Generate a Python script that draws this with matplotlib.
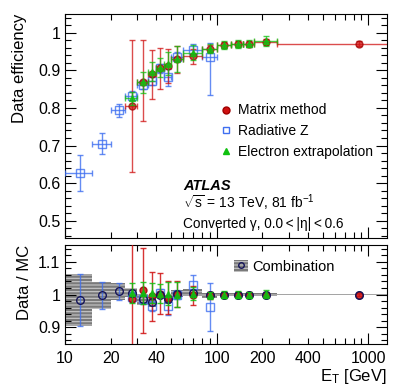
import numpy as np
import matplotlib
matplotlib.use("Agg")
import matplotlib.pyplot as plt
from matplotlib.patches import Patch
from matplotlib.lines import Line2D
from matplotlib.ticker import FixedLocator, NullFormatter, MultipleLocator

plt.rcParams['font.family'] = ['Liberation Sans', 'DejaVu Sans']
plt.rcParams['mathtext.fontset'] = 'custom'
plt.rcParams['mathtext.rm'] = 'Liberation Sans'
plt.rcParams['mathtext.it'] = 'Liberation Sans:italic'
plt.rcParams['hatch.linewidth'] = 0.8

# E_T bin edges [GeV]
edges = np.array([10, 15, 20, 25, 30, 35, 40, 45, 50, 60, 80, 100, 125, 150, 175, 250, 1500])
centers = 0.5 * (edges[1:] + edges[:-1])
halfw = 0.5 * (edges[1:] - edges[:-1])

# bins used by each method (indices into edges)
rz_bins = list(range(0, 11))       # radiative Z: 10-100 GeV
mm_bins = list(range(3, 16))       # matrix method: 25-1500 GeV
ee_bins = list(range(3, 15))       # electron extrapolation: 25-250 GeV

# data efficiency
rz_eff = [0.627, 0.705, 0.794, 0.832, 0.861, 0.872, 0.906, 0.883, 0.936, 0.954, 0.935]
rz_lo = [0.047, 0.027, 0.017, 0.012, 0.012, 0.012, 0.012, 0.025, 0.012, 0.015, 0.100]
rz_hi = [0.048, 0.027, 0.017, 0.012, 0.012, 0.012, 0.012, 0.020, 0.012, 0.015, 0.037]

mm_eff = [0.804, 0.870, 0.890, 0.905, 0.912, 0.929, 0.938, 0.958, 0.967, 0.970, 0.970, 0.975, 0.971]
mm_lo = [0.174, 0.105, 0.065, 0.055, 0.045, 0.035, 0.020, 0.010, 0.008, 0.008, 0.008, 0.008, 0.006]
mm_hi = [0.176, 0.110, 0.065, 0.055, 0.045, 0.035, 0.020, 0.010, 0.008, 0.008, 0.008, 0.008, 0.006]

ee_eff = [0.826, 0.868, 0.896, 0.907, 0.918, 0.930, 0.947, 0.958, 0.968, 0.970, 0.971, 0.978]
ee_err = [0.017, 0.028, 0.025, 0.025, 0.030, 0.035, 0.020, 0.012, 0.010, 0.010, 0.010, 0.012]

# data / MC scale factors
rz_sf = [0.983, 0.997, 1.010, 0.993, 0.985, 0.965, 1.005, 0.965, 1.000, 1.028, 0.963]
rz_sf_err = [0.078, 0.041, 0.026, 0.015, 0.015, 0.015, 0.013, 0.028, 0.013, 0.030, 0.073]

mm_sf = [0.985, 1.013, 0.995, 1.003, 0.990, 1.002, 0.997, 0.997, 1.000, 1.000, 1.000, 1.000, 1.000]
mm_sf_err = [0.200, 0.130, 0.075, 0.062, 0.050, 0.040, 0.028, 0.010, 0.008, 0.008, 0.008, 0.008, 0.005]

ee_sf = [1.005, 1.005, 1.005, 1.003, 1.003, 1.000, 1.002, 0.997, 1.000, 1.000, 0.998, 1.002]
ee_sf_err = [0.030, 0.033, 0.030, 0.028, 0.035, 0.038, 0.020, 0.012, 0.010, 0.010, 0.010, 0.012]

comb_sf = [0.983, 0.997, 1.010, 1.005, 0.985, 0.978, 1.000, 0.985, 1.003, 1.006, 0.997,
           1.000, 1.000, 0.999, 1.000, 1.000]
comb_err = [0.078, 0.041, 0.026, 0.014, 0.018, 0.015, 0.012, 0.014, 0.012, 0.012, 0.008,
            0.006, 0.005, 0.005, 0.005, 0.003]

RED = '#d01010'
BLUE = '#3f6ff0'
GREEN = '#10c010'
NAVY = '#14145a'
BOX = '#7a7a7a'
BOXLINE = '#c8c8c8'

fig = plt.figure(figsize=(4.07, 3.87), dpi=100)
ax1 = fig.add_axes([0.160, 0.386, 0.791, 0.578])
ax2 = fig.add_axes([0.160, 0.111, 0.791, 0.256])

# ---- top panel ----
ax1.errorbar(centers[rz_bins], rz_eff, yerr=[rz_lo, rz_hi], xerr=halfw[rz_bins],
             fmt='s', ms=5.5, mfc='none', mec=BLUE, mew=1.0, ecolor=BLUE, elinewidth=1.0,
             capsize=2, alpha=0.8, zorder=3)
ax1.errorbar(centers[mm_bins], mm_eff, yerr=[mm_lo, mm_hi], xerr=halfw[mm_bins],
             fmt='o', ms=5, mfc=RED, mec='#a00000', ecolor=RED, elinewidth=1.0,
             capsize=2, alpha=0.75, zorder=4)
ax1.errorbar(centers[ee_bins], ee_eff, yerr=ee_err, xerr=halfw[ee_bins],
             fmt='^', ms=5, mfc=GREEN, mec=GREEN, ecolor=GREEN, elinewidth=1.0,
             capsize=2, alpha=0.75, zorder=5)

ax1.set_ylim(0.455, 1.05)
ax1.set_ylabel('Data efficiency', fontsize=12, loc='top', labelpad=8)

h_mm = Line2D([], [], ls='none', marker='o', ms=5, mfc=RED, mec='#a00000')
h_rz = Line2D([], [], ls='none', marker='s', ms=5, mfc='none', mec=BLUE)
h_ee = Line2D([], [], ls='none', marker='^', ms=5, mfc=GREEN, mec=GREEN)
ax1.legend([h_mm, h_rz, h_ee], ['Matrix method', 'Radiative Z', 'Electron extrapolation'],
           loc='upper left', bbox_to_anchor=(0.46, 0.625), frameon=False, fontsize=10,
           handlelength=1.0, handletextpad=0.4, labelspacing=0.5, borderaxespad=0)

ax1.text(0.366, 0.215, 'ATLAS', transform=ax1.transAxes, fontsize=10.5,
         fontweight='bold', fontstyle='italic')
ax1.text(0.366, 0.132, r'$\sqrt{\rm s}$ = 13 TeV, 81 fb$^{-1}$', transform=ax1.transAxes,
         fontsize=10)
ax1.text(0.366, 0.045, 'Converted γ, 0.0\u2009<\u2009|η|\u2009<\u20090.6',
         transform=ax1.transAxes, fontsize=9.8, family=['Liberation Sans', 'DejaVu Sans'])

# ---- ratio panel ----
ax2.bar(edges[:-1], 2 * np.array(comb_err), width=np.diff(edges),
        bottom=np.array(comb_sf) - np.array(comb_err), align='edge',
        facecolor=BOX, edgecolor=BOXLINE, hatch='-----', linewidth=0, zorder=1)
ax2.errorbar(centers[rz_bins], rz_sf, yerr=rz_sf_err, fmt='none', ecolor=BLUE,
             elinewidth=1.0, capsize=2, alpha=0.8, zorder=2)
ax2.plot(centers[rz_bins][3:], rz_sf[3:], 's', ms=5.5, mfc='none', mec=BLUE,
         mew=1.0, alpha=0.8, zorder=2)
ax2.errorbar(centers[mm_bins], mm_sf, yerr=mm_sf_err, fmt='o', ms=5, mfc=RED,
             mec='#a00000', ecolor=RED, elinewidth=1.0, capsize=2, alpha=0.85, zorder=3)
ax2.errorbar(centers[ee_bins], ee_sf, yerr=ee_sf_err, fmt='^', ms=5, mfc=GREEN,
             mec=GREEN, ecolor=GREEN, elinewidth=1.0, capsize=2, alpha=0.85, zorder=5)
ax2.plot(centers, comb_sf, 'o', ms=5.5, mfc='none', mec=NAVY, mew=1.0, zorder=4)

ax2.set_ylim(0.849, 1.151)
ax2.set_ylabel('Data / MC', fontsize=12, loc='top', labelpad=4)
ax2.set_xlabel(r'E$_{\rm T}$ [GeV]', fontsize=12, loc='right', labelpad=1)

h_box = Patch(facecolor=BOX, edgecolor=BOXLINE, hatch='-----', linewidth=0)
h_circ = Line2D([], [], ls='none', marker='o', ms=4, mfc='none', mec=NAVY)
ax2.legend([(h_box, h_circ)], ['Combination'], loc='upper left',
           bbox_to_anchor=(0.505, 0.91), frameon=False, fontsize=10.5,
           handlelength=1.0, handleheight=0.9, handletextpad=0.25, borderaxespad=0)

for ax in (ax1, ax2):
    ax.set_xscale('log')
    ax.set_xlim(10, 1330)
    ax.xaxis.set_major_locator(FixedLocator([10, 100, 1000]))
    ax.xaxis.set_minor_locator(FixedLocator([20, 30, 40, 50, 60, 70, 80, 90,
                                              200, 300, 400, 500, 600, 700, 800, 900]))
    ax.tick_params(which='both', direction='in', top=True, right=True, labelsize=11.5)
    ax.tick_params(which='major', length=8, width=0.8)
    ax.tick_params(which='minor', length=4, width=0.8)
    for s in ax.spines.values():
        s.set_linewidth(0.8)

fmt_y = plt.FuncFormatter(lambda v, p: '1' if abs(v - 1) < 1e-6 else f'{v:.1f}')
ax1.yaxis.set_major_locator(MultipleLocator(0.1))
ax1.yaxis.set_minor_locator(MultipleLocator(0.02))
ax1.yaxis.set_major_formatter(fmt_y)
ax1.xaxis.set_major_formatter(NullFormatter())
ax1.xaxis.set_minor_formatter(NullFormatter())

ax2.yaxis.set_major_locator(MultipleLocator(0.1))
ax2.yaxis.set_minor_locator(MultipleLocator(0.02))
ax2.yaxis.set_major_formatter(fmt_y)
ax2.xaxis.set_major_formatter(plt.FuncFormatter(lambda v, p: f'{v:g}'))
ax2.xaxis.set_minor_formatter(plt.FuncFormatter(
    lambda v, p: f'{v:g}' if round(v) in (20, 40, 200, 400) else ''))
ax2.tick_params(axis='x', which='both', pad=5)

fig.savefig('out.png', dpi=100)
